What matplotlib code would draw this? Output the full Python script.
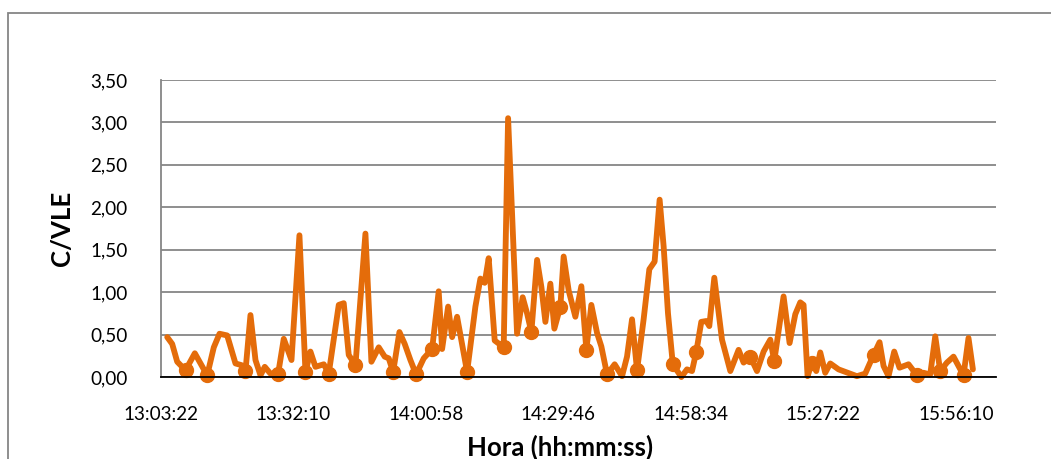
import matplotlib
matplotlib.use("Agg")
import matplotlib.pyplot as plt
from matplotlib.patches import Rectangle
from matplotlib.ticker import FuncFormatter

plt.rcParams['font.family'] = ['Lato', 'DejaVu Sans']

# minutes elapsed since 13:03:22
minutes = [1.35, 2.43, 3.52, 5.33, 7.35, 8.59, 10.04, 11.48, 12.72, 14.39,
           16.19, 17.50, 18.37, 19.45, 20.54, 21.63, 22.56, 23.80, 25.47, 26.69,
           28.37, 30.10, 31.41, 32.49, 33.58, 35.39, 36.47, 38.65, 39.73, 40.82,
           42.28, 44.45, 45.75, 47.34, 48.64, 49.52, 50.47, 51.84, 52.99, 54.23,
           55.47, 57.12, 58.95, 60.38, 61.12, 62.43, 63.30, 64.38, 66.56, 68.36,
           69.45, 70.38, 71.25, 72.56, 74.51, 75.47, 77.42, 78.64, 79.60, 80.53,
           81.77, 82.71, 83.58, 84.66, 85.53, 86.84, 87.55, 88.64, 90.10, 91.40,
           92.49, 93.57, 94.81, 95.75, 96.99, 98.64, 100.25, 101.33, 102.42, 103.51,
           104.94, 106.18, 107.33, 108.42, 109.29, 110.24, 111.29, 113.14, 114.37, 115.46,
           116.40, 117.48, 118.57, 119.22, 120.31, 121.98, 123.79, 125.59, 126.68, 128.13,
           129.59, 131.03, 132.48, 133.35, 135.37, 136.68, 137.92, 139.00, 139.72, 140.59,
           141.54, 142.48, 143.35, 144.43, 145.52, 147.33, 151.32, 153.13, 154.93, 156.24,
           157.11, 158.19, 159.43, 160.58, 162.54, 164.37, 165.80, 167.26, 168.35, 169.43,
           170.89, 172.32, 173.41, 174.50, 175.58, 176.54]

c_vle = [0.47, 0.39, 0.18, 0.08, 0.28, 0.16, 0.02, 0.35, 0.51, 0.49,
         0.16, 0.14, 0.07, 0.73, 0.20, 0.02, 0.12, 0.04, 0.04, 0.45,
         0.20, 1.67, 0.06, 0.30, 0.12, 0.15, 0.04, 0.85, 0.87, 0.26,
         0.14, 1.69, 0.18, 0.35, 0.24, 0.22, 0.06, 0.53, 0.39, 0.20,
         0.03, 0.22, 0.33, 1.01, 0.33, 0.83, 0.47, 0.71, 0.06, 0.83,
         1.16, 1.11, 1.40, 0.43, 0.35, 3.05, 0.51, 0.94, 0.75, 0.53,
         1.38, 1.06, 0.65, 1.10, 0.57, 0.83, 1.42, 1.02, 0.71, 1.07,
         0.32, 0.85, 0.52, 0.36, 0.03, 0.15, 0.01, 0.24, 0.68, 0.08,
         0.68, 1.27, 1.36, 2.09, 1.54, 0.75, 0.15, 0.00, 0.09, 0.07,
         0.30, 0.65, 0.66, 0.60, 1.17, 0.44, 0.07, 0.32, 0.17, 0.24,
         0.07, 0.30, 0.44, 0.19, 0.95, 0.40, 0.74, 0.88, 0.85, 0.01,
         0.17, 0.07, 0.29, 0.05, 0.16, 0.09, 0.01, 0.04, 0.26, 0.41,
         0.13, 0.01, 0.30, 0.11, 0.15, 0.02, 0.05, 0.03, 0.48, 0.07,
         0.17, 0.24, 0.13, 0.02, 0.46, 0.09]

# points drawn with a dot marker
marked = [3, 6, 12, 18, 22, 26, 30, 36, 40, 42, 48, 54, 59, 65, 70, 74,
          79, 86, 90, 99, 103, 110, 118, 125, 129, 133]

tick_labels = ['13:03:22', '13:32:10', '14:00:58', '14:29:46',
               '14:58:34', '15:27:22', '15:56:10']

orange = '#E46C0A'
grey = '#868686'

fig = plt.figure(figsize=(10.51, 4.59), dpi=100)
ax = fig.add_axes([0.1532, 0.1786, 0.7942, 0.6471])

ax.plot(minutes, c_vle, color=orange, lw=4.2, solid_joinstyle='round',
        solid_capstyle='round', marker='o', markersize=10, markevery=marked,
        markerfacecolor=orange, markeredgecolor=orange, zorder=3, clip_on=False)

ax.set_xlim(0, 181.5)
ax.set_ylim(0, 3.5)
ax.set_xticks([28.8 * i for i in range(len(tick_labels))])
ax.set_xticklabels(tick_labels)
ax.set_yticks([0.5 * i for i in range(8)])
ax.yaxis.set_major_formatter(FuncFormatter(lambda v, p: f'{v:.2f}'.replace('.', ',')))
ax.tick_params(axis='both', length=0, labelsize=13.6, colors='black')
ax.tick_params(axis='y', pad=24)
ax.tick_params(axis='x', pad=21)

ax.grid(axis='y', color=grey, lw=1.3)
ax.set_axisbelow(True)
for s in ['top', 'right']:
    ax.spines[s].set_visible(False)
ax.spines['left'].set_color(grey)
ax.spines['left'].set_linewidth(1.3)
ax.spines['bottom'].set_color('black')
ax.spines['bottom'].set_linewidth(1.3)
ax.spines['bottom'].set_zorder(4)

fig.text(560 / 1051, 1 - 447 / 459, 'Hora (hh:mm:ss)', fontsize=18.5,
         fontweight='bold', ha='center', va='center')
ax.set_ylabel('C/VLE', fontsize=18.5, fontweight='bold', labelpad=12)

fig.patches.append(Rectangle((8 / 1051, -0.2), 1.2, 1.2 - 12.5 / 459,
                             transform=fig.transFigure, fill=False,
                             edgecolor=grey, lw=1.3))

fig.savefig('out.png', dpi=100)
